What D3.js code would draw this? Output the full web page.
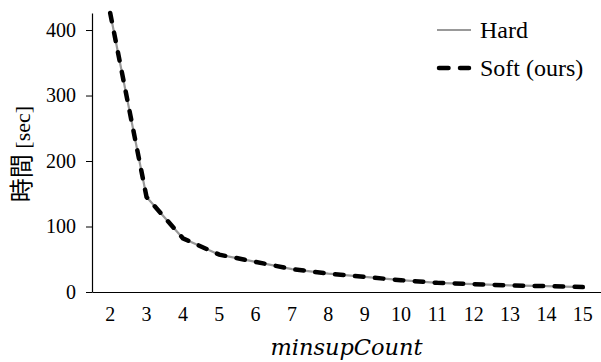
<!DOCTYPE html>
<html>
<head>
<meta charset="utf-8">
<script src="https://cdn.jsdelivr.net/npm/d3@7"></script>
<style>
  body { margin: 0; background: #fff; }
</style>
</head>
<body>
<div id="chart"></div>
<script>
// minsupCount on the x axis
var counts = [2, 3, 4, 5, 6, 7, 8, 9, 10, 11, 12, 13, 14, 15];
// run time in seconds, both methods give the same curve
var hardTimes = [426, 145, 82, 57, 46, 35, 28, 23, 18, 14, 12, 10, 9, 7.5];
var softTimes = [426, 145, 82, 57, 46, 35, 28, 23, 18, 14, 12, 10, 9, 7.5];
var yTicks = [0, 100, 200, 300, 400];

var serif = "'Liberation Serif', 'Times New Roman', serif";
var width = 601, height = 362;
var margin = {top: 13, right: 0, bottom: 70, left: 92};

var svg = d3.select("#chart")
    .append("svg")
    .attr("width", width)
    .attr("height", height);

var x = d3.scaleBand()
    .domain(counts)
    .range([margin.left, width - margin.right]);

var y = d3.scaleLinear()
    .domain([0, 426])
    .range([height - margin.bottom, margin.top]);

// y axis
var yAxis = svg.append("g")
    .attr("transform", "translate(" + margin.left + ",0)")
    .call(d3.axisLeft(y).tickValues(yTicks).tickSize(6).tickSizeOuter(0))
    .attr("font-family", serif)
    .attr("font-size", 20);
yAxis.select(".domain").attr("stroke", "#000").attr("stroke-width", 1.2);
yAxis.selectAll(".tick line").attr("stroke", "#000");
yAxis.selectAll(".tick text").attr("x", -16).attr("fill", "#000");

// x axis, no tick marks
var xAxis = svg.append("g")
    .attr("transform", "translate(0," + (height - margin.bottom) + ")")
    .call(d3.axisBottom(x).tickSize(0).tickSizeOuter(0))
    .attr("font-family", serif)
    .attr("font-size", 20);
xAxis.select(".domain").attr("stroke", "#000").attr("stroke-width", 1.2);
xAxis.selectAll(".tick text").attr("y", 15).attr("fill", "#000");

var line = d3.line()
    .x(function(d, i) { return x(counts[i]) + x.bandwidth() / 2; })
    .y(function(d) { return y(d); });

svg.append("path")
    .datum(hardTimes)
    .attr("fill", "none")
    .attr("stroke", "#999")
    .attr("stroke-width", 2.2)
    .attr("d", line);

svg.append("path")
    .datum(softTimes)
    .attr("fill", "none")
    .attr("stroke", "#000")
    .attr("stroke-width", 4.5)
    .attr("stroke-linecap", "round")
    .attr("stroke-dasharray", "8.5,11.5")
    .attr("d", line);

// axis titles
var ylab = svg.append("text")
    .attr("transform", "translate(30,154) rotate(-90)")
    .attr("text-anchor", "middle")
    .attr("font-family", serif);
ylab.append("tspan")
    .attr("font-family", "'Noto Sans CJK JP'")
    .attr("font-size", 24)
    .text("時間");
ylab.append("tspan")
    .attr("font-size", 22)
    .text(" [sec]");

svg.append("text")
    .attr("x", (margin.left + width - margin.right) / 2)
    .attr("y", 355)
    .attr("text-anchor", "middle")
    .attr("font-size", 22.5)
    .attr("font-family", "'DejaVu Serif'")
    .attr("font-style", "italic")
    .text("minsupCount");

// legend
var legend = [
  {name: "Hard", color: "#999", w: 2.2, dash: null},
  {name: "Soft (ours)", color: "#000", w: 4.5, dash: "9.5,11.5"}
];
var lg = svg.selectAll(".legend")
    .data(legend)
    .enter()
    .append("g")
    .attr("class", "legend")
    .attr("transform", function(d, i) { return "translate(437," + (30 + i * 38) + ")"; });

lg.append("line")
    .attr("x1", function(d) { return d.dash ? 2 : 0; })
    .attr("x2", function(d) { return d.dash ? 32 : 34; })
    .attr("stroke", function(d) { return d.color; })
    .attr("stroke-width", function(d) { return d.w; })
    .attr("stroke-linecap", function(d) { return d.dash ? "round" : "butt"; })
    .attr("stroke-dasharray", function(d) { return d.dash; });

lg.append("text")
    .attr("x", 43)
    .attr("dy", "0.33em")
    .attr("font-family", serif)
    .attr("font-size", 24)
    .text(function(d) { return d.name; });
</script>
</body>
</html>
